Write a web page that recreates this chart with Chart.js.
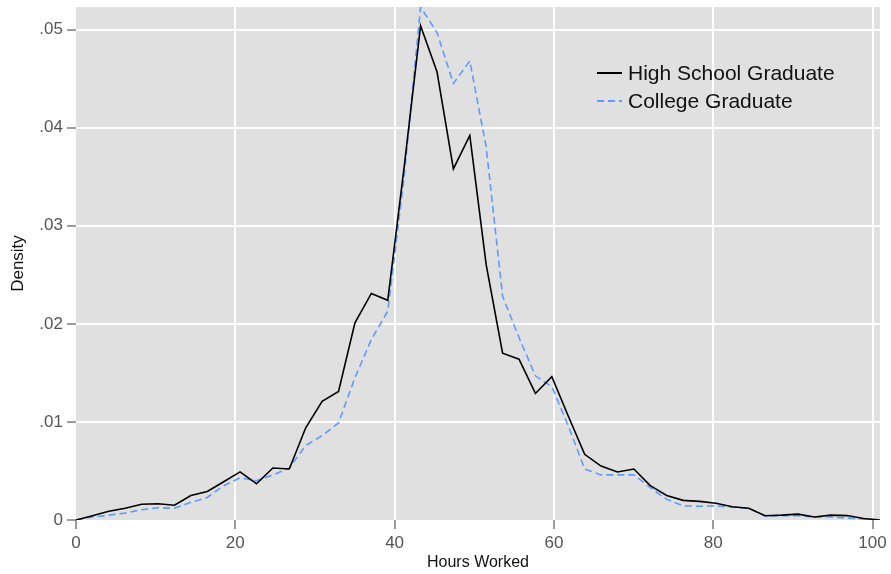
<!DOCTYPE html>
<html>
<head>
<meta charset="utf-8">
<script src="https://cdn.jsdelivr.net/npm/chart.js@4.4.0/dist/chart.umd.min.js"></script>
<style>
  html, body { margin: 0; padding: 0; background: #fff; }
  #wrap { width: 891px; height: 574px; }
</style>
</head>
<body>
<div id="wrap"><canvas id="myChart"></canvas></div>
<script>
// hours at which the density was estimated
var hours = [0, 2.06, 4.12, 6.18, 8.24, 10.3, 12.36, 14.42, 16.48, 18.54,
  20.6, 22.66, 24.72, 26.78, 28.84, 30.9, 32.96, 35.02, 37.08, 39.14,
  41.2, 43.26, 45.32, 47.38, 49.44, 51.5, 53.56, 55.62, 57.68, 59.74,
  61.8, 63.86, 65.92, 67.98, 70.04, 72.1, 74.16, 76.22, 78.28, 80.34,
  82.4, 84.46, 86.52, 88.58, 90.64, 92.7, 94.76, 96.82, 98.88, 100.94];

var highSchool = [0, 0.00044, 0.0009, 0.0012, 0.0016, 0.00166, 0.0015, 0.0025, 0.0029, 0.0039,
  0.0049, 0.0037, 0.0053, 0.0052, 0.0094, 0.0121, 0.0131, 0.0201, 0.0231, 0.0224,
  0.036, 0.0504, 0.0457, 0.0358, 0.0392, 0.026, 0.017, 0.0164, 0.0129, 0.0146,
  0.0106, 0.0067, 0.0055, 0.0049, 0.0052, 0.0035, 0.0025, 0.002, 0.0019, 0.0017,
  0.00135, 0.0012, 0.00044, 0.0005, 0.0006, 0.0003, 0.0005, 0.00045, 0.00015, 0];

var college = [0, 0.0003, 0.0005, 0.0007, 0.00105, 0.00125, 0.0012, 0.0018, 0.0023, 0.0035,
  0.0043, 0.004, 0.0046, 0.0053, 0.0076, 0.0086, 0.0099, 0.0145, 0.0184, 0.0213,
  0.035, 0.0523, 0.0497, 0.0445, 0.0468, 0.038, 0.0228, 0.0186, 0.0147, 0.0136,
  0.0096, 0.0052, 0.0046, 0.0046, 0.0046, 0.0033, 0.0021, 0.00145, 0.0014, 0.00145,
  0.0013, 0.0012, 0.0004, 0.00045, 0.00045, 0.0003, 0.0003, 0.0002, 0.0001, 0];

var seriesNames = ['High School Graduate', 'College Graduate'];
var xTicks = [0, 20, 40, 60, 80, 100];
var yTicks = [0, 0.01, 0.02, 0.03, 0.04, 0.05];

function toPoints(xs, ys) {
  return xs.map(function(x, i) { return { x: x, y: ys[i] }; });
}

// grey plot background, like the stata scheme
var plotBg = {
  id: 'plotBg',
  beforeDraw: function(chart) {
    var a = chart.chartArea, ctx = chart.ctx;
    ctx.save();
    ctx.fillStyle = '#e0e0e0';
    ctx.fillRect(a.left, a.top, a.right - a.left, a.bottom - a.top);
    ctx.restore();
  }
};

// legend drawn inside the plot, top right
var insideLegend = {
  id: 'insideLegend',
  afterDraw: function(chart) {
    var ctx = chart.ctx;
    var ds = chart.data.datasets;
    ctx.save();
    ctx.font = '21px "Liberation Sans", Arial, sans-serif';
    ctx.textBaseline = 'middle';
    ds.forEach(function(d, i) {
      var y = 73 + i * 28;
      ctx.strokeStyle = d.borderColor;
      ctx.lineWidth = 2;
      ctx.setLineDash(d.borderDash || []);
      ctx.beginPath();
      ctx.moveTo(597, y);
      ctx.lineTo(622, y);
      ctx.stroke();
      ctx.setLineDash([]);
      ctx.fillStyle = '#111';
      ctx.fillText(d.label, 628, y + 1);
    });
    ctx.restore();
  }
};

function gridColor(c) {
  return c.tick && c.tick.value === 0 ? 'rgba(0,0,0,0)' : '#ffffff';
}

var fontFamily = '"Liberation Sans", Arial, sans-serif';

var ctx = document.getElementById('myChart').getContext('2d');
var chart = new Chart(ctx, {
  type: 'line',
  data: {
    datasets: [{
      label: seriesNames[0],
      data: toPoints(hours, highSchool),
      borderColor: '#000000',
      borderWidth: 1.6,
      pointRadius: 0,
      tension: 0,
      fill: false
    }, {
      label: seriesNames[1],
      data: toPoints(hours, college),
      borderColor: '#5e9bff',
      borderWidth: 1.6,
      borderDash: [7, 4],
      pointRadius: 0,
      tension: 0,
      fill: false
    }]
  },
  options: {
    responsive: true,
    maintainAspectRatio: false,
    animation: false,
    layout: { padding: { left: 0, right: 11, top: 7, bottom: 0 } },
    plugins: {
      legend: { display: false },
      tooltip: { enabled: false }
    },
    scales: {
      x: {
        type: 'linear',
        min: 0,
        max: 100.94,
        afterBuildTicks: function(axis) {
          axis.ticks = xTicks.map(function(v) { return { value: v }; });
        },
        afterFit: function(axis) {
          axis.height = 54;
          axis.paddingLeft = 0;
          axis.paddingRight = 0;
        },
        border: { display: false },
        grid: { color: gridColor, lineWidth: 2, tickColor: '#666', tickLength: 9, tickWidth: 1.3 },
        ticks: {
          color: '#555',
          padding: 4,
          maxRotation: 0,
          font: { family: fontFamily, size: 17 }
        },
        title: {
          display: true,
          text: 'Hours Worked',
          color: '#111',
          padding: { top: 0, bottom: 2 },
          font: { family: fontFamily, size: 16 }
        }
      },
      y: {
        min: 0,
        max: 0.0523,
        afterBuildTicks: function(axis) {
          axis.ticks = yTicks.map(function(v) { return { value: v }; });
        },
        afterFit: function(axis) {
          axis.width = 76;
          axis.paddingTop = 0;
          axis.paddingBottom = 0;
        },
        border: { display: false },
        grid: { color: gridColor, lineWidth: 2, tickColor: '#666', tickLength: 9, tickWidth: 1.3 },
        ticks: {
          color: '#555',
          padding: 4,
          font: { family: fontFamily, size: 17 },
          callback: function(v) {
            return v === 0 ? '0' : v.toFixed(2).replace('0.', '.');
          }
        },
        title: {
          display: true,
          text: 'Density',
          color: '#111',
          padding: { top: 8, bottom: 0 },
          font: { family: fontFamily, size: 17 }
        }
      }
    }
  },
  plugins: [plotBg, insideLegend]
});
</script>
</body>
</html>
